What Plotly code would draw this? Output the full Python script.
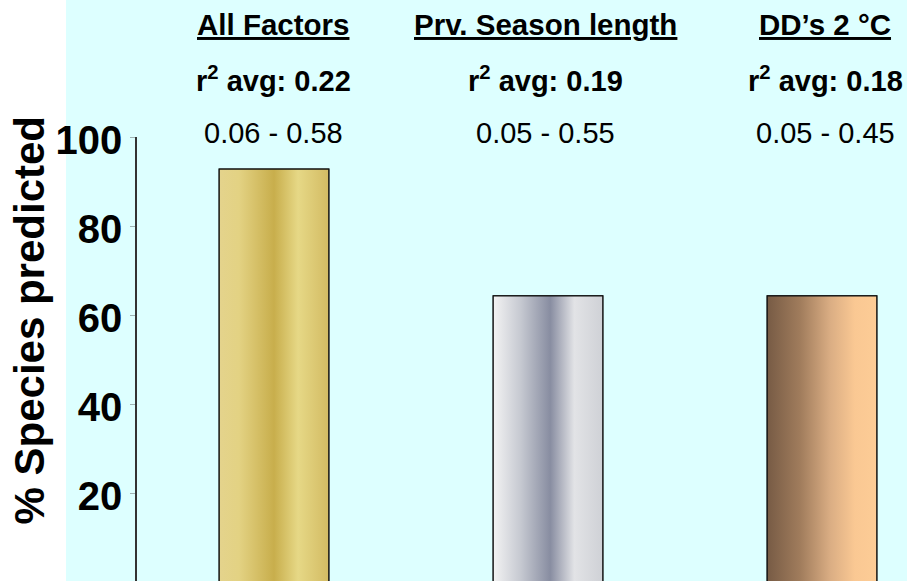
import plotly.graph_objects as go

# Model groups and their share of species predicted
categories = ["All Factors", "Prv. Season length", "DD\u2019s 2 \u00b0C"]
pct_predicted = [92.8, 64.3, 64.3]
r2_avg = [0.22, 0.19, 0.18]
r2_low = [0.06, 0.05, 0.05]
r2_high = [0.58, 0.55, 0.45]
y_ticks = [20, 40, 60, 80, 100]

# metallic-looking fills: gold, silver, copper
bar_gradients = [
    [[0.0, "#E4D38C"], [0.18, "#E3D283"], [0.5, "#C8AE4C"], [0.72, "#E6D886"], [1.0, "#D3BB63"]],
    [[0.0, "#F3F3F3"], [0.25, "#C6C9D1"], [0.52, "#888DA1"], [0.74, "#E2E3E6"], [1.0, "#CFD1D6"]],
    [[0.0, "#775B45"], [0.3, "#A07C5C"], [0.58, "#DBAE84"], [0.8, "#FAC893"], [1.0, "#FDCC96"]],
]
bar_base_colors = ["#D8C26A", "#B9BCC6", "#C89A70"]

FONT = "Liberation Sans, Arial, Helvetica, sans-serif"
W, H = 907, 581
ML, MT = 137, 137
PLOT_W, PLOT_H = W - ML, H - MT
BAR_W = 0.4

xs = list(range(len(categories)))

fig = go.Figure()
fig.add_trace(go.Bar(
    x=xs, y=pct_predicted, width=BAR_W,
    marker=dict(color=bar_base_colors, line=dict(color="#111111", width=1.2)),
    hoverinfo="skip", showlegend=False,
))

# gradient overlay on each bar, built from the same values
for i, (xv, yv) in enumerate(zip(xs, pct_predicted)):
    x0, x1 = xv - BAR_W / 2, xv + BAR_W / 2
    fig.add_trace(go.Scatter(
        x=[x0, x1, x1, x0, x0], y=[0, 0, yv, yv, 0],
        mode="lines", fill="toself",
        fillgradient=dict(type="horizontal", colorscale=bar_gradients[i]),
        line=dict(color="#111111", width=1.2),
        hoverinfo="skip", showlegend=False,
    ))


def py(px):
    """pixel row -> paper y"""
    return (H - px) / PLOT_H


def pxx(px):
    """pixel column -> paper x"""
    return (px - ML) / PLOT_W


# small horizontal nudges for the header columns (pixels)
header_shift = [-1, -3, 3]

annotations = []
for i, name in enumerate(categories):
    annotations.append(dict(
        x=xs[i], xref="x", y=py(24), yref="paper", yanchor="middle",
        xshift=header_shift[i],
        text=f"<b><u>{name}</u></b>", showarrow=False,
        font=dict(family=FONT, size=29.5, color="#000000"),
    ))
    annotations.append(dict(
        x=xs[i], xref="x", y=py(79), yref="paper", yanchor="middle",
        xshift=header_shift[i],
        text=f"<b>r<sup>2</sup> avg: {r2_avg[i]:.2f}</b>", showarrow=False,
        font=dict(family=FONT, size=29, color="#000000"),
    ))
    annotations.append(dict(
        x=xs[i], xref="x", y=py(133), yref="paper", yanchor="middle",
        xshift=header_shift[i],
        text=f"{r2_low[i]:.2f} - {r2_high[i]:.2f}", showarrow=False,
        font=dict(family=FONT, size=29, color="#000000"),
    ))

annotations.append(dict(
    x=pxx(28.5), xref="paper", y=py(320), yref="paper",
    xanchor="center", yanchor="middle", textangle=-90,
    text="<b>% Species predicted</b>", showarrow=False,
    font=dict(family=FONT, size=42, color="#000000"),
))

fig.update_layout(
    width=W, height=H,
    margin=dict(l=ML, r=0, t=MT, b=0, pad=0),
    paper_bgcolor="#FFFFFF",
    plot_bgcolor="rgba(0,0,0,0)",
    showlegend=False,
    annotations=annotations,
    shapes=[dict(
        type="rect", xref="paper", yref="paper", layer="below",
        x0=pxx(66), x1=1.0, y0=0, y1=py(0),
        fillcolor="#DDFFFF", line=dict(width=0),
    )],
    xaxis=dict(
        range=[-0.5, -0.5 + PLOT_W / 274.0],
        showticklabels=False, showline=False, showgrid=False,
        zeroline=False, ticks="", fixedrange=True,
    ),
    yaxis=dict(
        range=[0.29, 100], tickvals=y_ticks,
        ticktext=[str(v) for v in y_ticks],
        showline=True, linecolor="#333333", linewidth=1.5,
        ticks="outside", ticklen=5, tickcolor="#9FB3B3", tickwidth=1,
        ticklabelstandoff=0, ticklabelshift=3,
        tickfont=dict(family=FONT, size=40, color="#000000", weight="bold"),
        showgrid=False, zeroline=False, fixedrange=True,
    ),
)

fig.write_html("out.html")
